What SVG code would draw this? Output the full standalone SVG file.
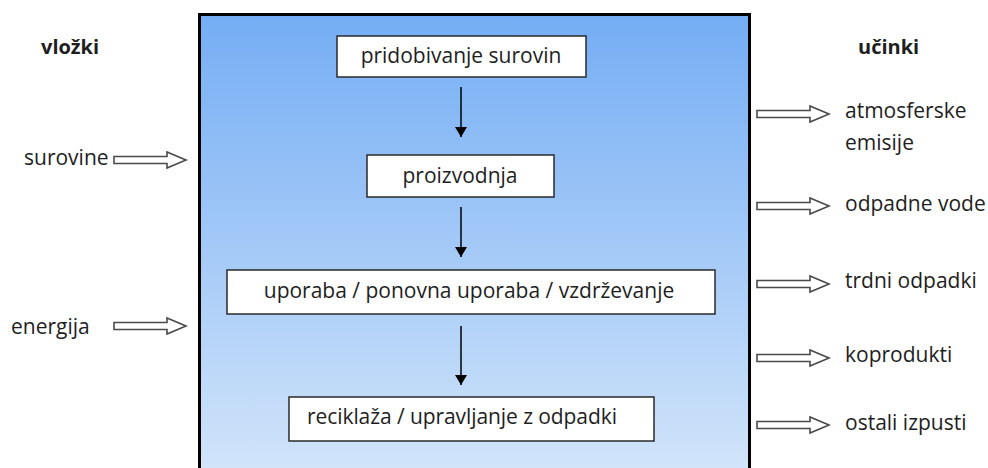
<svg xmlns="http://www.w3.org/2000/svg" width="988" height="468" viewBox="0 0 988 468">
  <defs>
    <linearGradient id="panelFill" x1="0" y1="0" x2="0" y2="1">
      <stop offset="0" stop-color="#74adf4"/>
      <stop offset="1" stop-color="#d4e6fa"/>
    </linearGradient>
    <marker id="tip" viewBox="0 0 10 12" refX="10" refY="6" markerWidth="10" markerHeight="12" markerUnits="userSpaceOnUse" orient="auto">
      <path d="M0,0 L10,6 L0,12 Z" fill="#000"/>
    </marker>
    <!-- hollow block arrow, pointing right, origin at its left-centre -->
    <polygon id="blockArrow" points="0,-3.5 53,-3.5 53,-8 72,0 53,8 53,3.5 0,3.5"/>
  </defs>
  <style>
    text { font-family: "Open Sans", "Noto Sans", "Liberation Sans", sans-serif; fill: #1e1e1e; }
    .lbl { font-size: 21px; }
    .head { font-size: 20px; font-weight: bold; }
    .step { fill: #fff; stroke: #2a2a2a; stroke-width: 1.5; }
    .flow { stroke: #000; stroke-width: 1.5; fill: none; marker-end: url(#tip); }
    .io { fill: #fff; stroke: #4a4a4a; stroke-width: 1.6; stroke-linejoin: miter; }
  </style>

  <rect width="988" height="468" fill="#fff"/>

  <!-- life-cycle panel -->
  <g id="panel">
    <rect x="199.5" y="14.5" width="550" height="470" fill="url(#panelFill)" stroke="#000" stroke-width="3"/>
  </g>

  <!-- column headings -->
  <g id="inputs-heading"><text class="head" x="41" y="54">vložki</text></g>
  <g id="outputs-heading"><text class="head" x="858" y="54">učinki</text></g>

  <!-- process steps -->
  <g id="step-extraction">
    <rect class="step" x="337" y="36" width="249" height="41"/>
    <text class="lbl" x="461" y="63" text-anchor="middle">pridobivanje surovin</text>
  </g>
  <g id="step-production">
    <rect class="step" x="367" y="155" width="187" height="42"/>
    <text class="lbl" x="460" y="183" text-anchor="middle">proizvodnja</text>
  </g>
  <g id="step-use">
    <rect class="step" x="227" y="270" width="488" height="44"/>
    <text class="lbl" x="469" y="298" text-anchor="middle">uporaba / ponovna uporaba / vzdrževanje</text>
  </g>
  <g id="step-recycling">
    <rect class="step" x="289" y="397" width="365" height="44"/>
    <text class="lbl" x="307" y="424" textLength="310" lengthAdjust="spacing">reciklaža / upravljanje z odpadki</text>
  </g>

  <!-- inputs -->
  <g id="input-raw">
    <text class="lbl" x="24" y="165">surovine</text>
  </g>
  <g id="input-energy">
    <text class="lbl" x="11" y="334">energija</text>
  </g>

  <!-- outputs -->
  <g id="out-air">
    <text class="lbl" x="845" y="118">atmosferske</text>
    <text class="lbl" x="845" y="150">emisije</text>
  </g>
  <g id="out-water"><text class="lbl" x="845" y="211">odpadne vode</text></g>
  <g id="out-solid"><text class="lbl" x="845" y="288">trdni odpadki</text></g>
  <g id="out-coproducts"><text class="lbl" x="845" y="362">koprodukti</text></g>
  <g id="out-other"><text class="lbl" x="845" y="430">ostali izpusti</text></g>

  <!-- connectors -->
  <g id="connectors">
    <line class="flow" x1="461" y1="87" x2="461" y2="137"/>
    <line class="flow" x1="461" y1="207" x2="461" y2="257"/>
    <line class="flow" x1="461" y1="326" x2="461" y2="385"/>

    <use href="#blockArrow" class="io" x="114" y="160"/>
    <use href="#blockArrow" class="io" x="114" y="326"/>

    <use href="#blockArrow" class="io" x="757" y="114"/>
    <use href="#blockArrow" class="io" x="757" y="206"/>
    <use href="#blockArrow" class="io" x="757" y="284"/>
    <use href="#blockArrow" class="io" x="757" y="358"/>
    <use href="#blockArrow" class="io" x="757" y="425"/>
  </g>
</svg>
